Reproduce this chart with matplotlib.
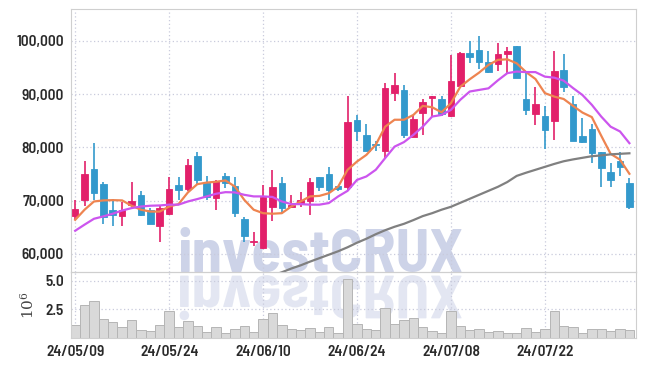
import matplotlib
matplotlib.use('Agg')
import matplotlib.pyplot as plt
import numpy as np
from matplotlib.textpath import TextPath
from matplotlib.patches import PathPatch
from matplotlib.font_manager import FontProperties
import matplotlib.transforms as mtransforms

# daily candles 24/05/09 .. 24/08/02
opens = [67200, 70200, 76000, 73200, 68200, 67200, 69100, 71100, 68300, 65200,
         67500, 73000, 72200, 78300, 73300, 70500, 74700, 72700, 66600, 62200,
         61200, 68900, 73300, 68800, 69400, 70000, 74400, 75000, 72700, 72500,
         85200, 82400, 80500, 79400, 90200, 90800, 82000, 86500, 89200, 89100,
         85900, 91600, 97700, 98300, 96000, 95600, 97600, 99100, 89100, 86300,
         85900, 84900, 94600, 88200, 82200, 83500, 79100, 75400, 77500, 73300]
closes = [68400, 75000, 71500, 67000, 67400, 68200, 70000, 67400, 65700, 68700,
          72200, 72000, 76700, 73900, 70700, 73700, 73300, 67700, 63300, 62400,
          70700, 72500, 68600, 69100, 70200, 73500, 72600, 72000, 72200, 84800,
          83000, 79400, 80400, 91100, 91700, 82400, 85400, 88600, 89700, 86200,
          92500, 97700, 96900, 96000, 94100, 97600, 98100, 93100, 87100, 88200,
          83300, 94400, 91300, 81300, 81100, 78900, 76200, 73800, 76400, 68900]
highs = [70200, 77400, 80800, 73500, 70400, 69800, 73500, 71900, 68600, 69200,
         74500, 74500, 77800, 79100, 74700, 73900, 75200, 74500, 67000, 64200,
         73000, 75800, 74400, 71100, 71600, 74200, 74500, 76400, 72800, 89700,
         86100, 84400, 81200, 92100, 93900, 91700, 86100, 89100, 89700, 89600,
         97400, 97900, 99900, 100900, 98100, 99700, 98800, 99100, 94000, 91400,
         87800, 98200, 97500, 89600, 85500, 84400, 79200, 77100, 79200, 74200]
lows = [66400, 69000, 70200, 65600, 65300, 65200, 68700, 67200, 65600, 62300,
        67400, 70200, 71900, 73000, 70200, 68300, 72400, 67000, 62200, 61500,
        61000, 66200, 67700, 68600, 68900, 67400, 71900, 70200, 71900, 71900,
        81200, 79300, 79400, 78100, 88800, 81700, 81900, 82400, 85800, 85900,
        85800, 91500, 95800, 94700, 94000, 94400, 93900, 93000, 86000, 84200,
        79700, 81400, 90500, 81200, 80800, 77100, 72600, 72600, 74700, 68500]

ma5 = [66400, 68300, 69850, 70050, 70100, 70050, 69050, 68300, 67950, 67950,
       68900, 69350, 71550, 73100, 73400, 73550, 73800, 72650, 70150, 68300,
       67650, 67550, 67650, 68900, 69850, 70800, 70900, 71400, 72650, 75800,
       77350, 78600, 80500, 83900, 85200, 85200, 86100, 87800, 87550, 86600,
       88300, 91400, 92800, 94050, 95500, 96450, 96550, 95800, 94150, 92850,
       90200, 89550, 89100, 87800, 86550, 85700, 82200, 78800, 77700, 75050]
ma10 = [64350, 65500, 66600, 67050, 67550, 68150, 68600, 68900, 69050, 69100,
        69250, 69250, 69850, 70300, 70800, 71300, 71600, 71550, 71100, 70800,
        70800, 70700, 69850, 69350, 69350, 69250, 69250, 69550, 70800, 71850,
        73900, 74550, 75800, 78000, 80150, 81000, 82350, 83900, 85800, 86100,
        87050, 88950, 90500, 90800, 91100, 92600, 93950, 94250, 94150, 94150,
        93300, 93100, 92550, 91150, 89850, 88000, 85800, 83900, 83000, 80800]
# long average, only the visible tail (last 39 sessions)
ma60 = [55950, 56550, 57250, 57850, 58550, 59200, 59850, 60500, 61250, 62100,
        62850, 63700, 64450, 65100, 65650, 66350, 67100, 67650, 68300, 68850,
        69600, 70350, 71100, 71850, 72600, 73500, 74650, 75250, 75800, 76350,
        76900, 77400, 77750, 78050, 78350, 78500, 78700, 78800, 78900]

volume = [1.13, 2.88, 3.23, 1.63, 1.39, 0.92, 1.54, 0.69, 0.60, 1.10,
          2.35, 0.92, 1.48, 1.04, 0.52, 0.92, 0.43, 0.78, 1.04, 0.52,
          1.63, 2.15, 1.13, 0.78, 0.69, 0.84, 0.52, 0.92, 0.45, 5.21,
          1.27, 0.78, 0.69, 2.67, 1.21, 1.56, 1.71, 0.98, 0.63, 0.43,
          2.35, 1.04, 0.69, 0.78, 0.52, 0.60, 0.43, 0.43, 0.84, 0.52,
          0.78, 2.35, 1.04, 0.92, 0.43, 0.78, 0.78, 0.60, 0.78, 0.69]

date_labels = ['24/05/09', '24/05/24', '24/06/10', '24/06/24', '24/07/08', '24/07/22']

up_c = '#e2206a'
down_c = '#3399cc'
grid_c = '#c9cbdc'
spine_c = '#cfcfcf'

plt.rcParams['font.family'] = ['Barlow Semi Condensed', 'DejaVu Sans']
plt.rcParams['font.weight'] = 600

fig = plt.figure(figsize=(6.45, 3.66), dpi=100)
fig.patch.set_facecolor('white')
ax = fig.add_axes([0.110, 0.2568, 0.876, 0.7186])
axv = fig.add_axes([0.110, 0.0765, 0.876, 0.1803], sharex=ax)
for a in (ax, axv):
    a.set_facecolor('none')
    for s in a.spines.values():
        s.set_color(spine_c)
    a.tick_params(length=0, labelsize=11, colors='#2a2a2a', pad=5)
    a.grid(True, linestyle=(0, (1, 2)), color=grid_c, linewidth=0.9)
    a.set_axisbelow(True)

n = len(opens)
x = np.arange(n)
o = np.array(opens)
c = np.array(closes)
colors = [up_c if cc >= oo else down_c for oo, cc in zip(o, c)]
bottoms = np.minimum(o, c)
heights = np.maximum(np.abs(c - o), 180)
ax.vlines(x, lows, highs, colors=colors, linewidth=1.2, zorder=2)
ax.bar(x, heights, bottom=bottoms, width=0.7, color=colors, edgecolor=colors,
       linewidth=0.6, zorder=3)

ax.plot(x, ma5, color='#ee8450', linewidth=1.6, zorder=4)
ax.plot(x, ma10, color='#cc55ee', linewidth=1.6, zorder=4)
ax.plot(np.arange(n - len(ma60), n), ma60, color='#808080', linewidth=1.6, zorder=4)

ax.set_ylim(56600, 106000)
ax.set_yticks([60000, 70000, 80000, 90000, 100000])
ax.set_yticklabels(['{:,}'.format(v) for v in [60000, 70000, 80000, 90000, 100000]])
ax.set_xlim(-0.45, 59.7)
ax.tick_params(axis='x', labelbottom=False)

axv.bar(x, volume, width=1.0, color='#d9d9d9', edgecolor='#b5b5b5', linewidth=0.7, zorder=2)
axv.set_ylim(0, 5.78)
axv.set_yticks([2.5, 5.0])
axv.set_yticklabels(['2.5', '5.0'])
axv.set_xticks(np.arange(0, 10 * len(date_labels), 10))
axv.set_xticklabels(date_labels)
axv.set_ylabel('$\\mathregular{10^6}$', fontsize=11, fontweight='normal', family='DejaVu Serif',
               color='#444444', labelpad=6)

# watermark with mirrored reflection
wm_c = '#cdd3e8'
wm_size = 44
fig.text(0.497, 0.257, 'investCRUX', fontsize=wm_size, fontweight=700, color=wm_c,
         family='Barlow Semi Condensed', ha='center', va='baseline', zorder=-1)
fp = FontProperties(family='Barlow Semi Condensed', weight=700, size=wm_size)
tp = TextPath((0, 0), 'investCRUX', prop=fp)
bb = tp.get_extents()
tr = (mtransforms.Affine2D().translate(-(bb.x0 + bb.x1) / 2, 0).scale(100 / 72, -100 / 72)
      .translate(0.497 * 645, 0.247 * 366))
patch = PathPatch(tr.transform_path(tp), facecolor=wm_c, edgecolor='none', alpha=0.55,
                  transform=mtransforms.IdentityTransform(), zorder=-1)
fig.add_artist(patch)

fig.savefig('out.png', dpi=100)
